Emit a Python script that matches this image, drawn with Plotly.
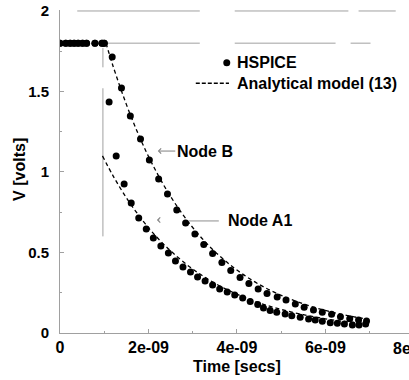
import plotly.graph_objects as go

NS = 1e-9
FONT = "Liberation Sans, Arial, Helvetica, sans-serif"

# ---------------- data (time in ns, voltage in V) ----------------
# HSPICE samples before the switching event (both nodes at 1.8 V)
pre_t = [0.0, 0.13, 0.23, 0.32, 0.41, 0.51, 0.60, 0.79, 0.95, 1.00]
pre_v = [1.8, 1.8, 1.8, 1.8, 1.8, 1.8, 1.8, 1.8, 1.8, 1.8]

# HSPICE Node B
hsp_b_t = [1.18, 1.39, 1.59, 1.82, 2.02, 2.23, 2.43, 2.64, 2.84, 3.05,
           3.25, 3.45, 3.66, 3.86, 4.07, 4.27, 4.48, 4.68, 4.91, 5.11,
           5.32, 5.52, 5.73, 5.93, 6.14, 6.34, 6.55, 6.75, 6.93]
hsp_b_v = [1.714, 1.522, 1.348, 1.205, 1.075, 0.957, 0.863, 0.764, 0.683, 0.615,
           0.550, 0.494, 0.438, 0.388, 0.345, 0.308, 0.273, 0.245, 0.224, 0.205,
           0.180, 0.160, 0.143, 0.129, 0.116, 0.101, 0.089, 0.081, 0.075]

# HSPICE Node A1
hsp_a_t = [1.11, 1.27, 1.45, 1.61, 1.78, 1.95, 2.11, 2.28, 2.45, 2.61,
           2.78, 2.95, 3.11, 3.28, 3.45, 3.61, 3.78, 3.95, 4.13, 4.30,
           4.47, 4.60, 4.75, 4.90, 5.09, 5.24, 5.43, 5.62, 5.77, 5.93,
           6.11, 6.27, 6.43, 6.61, 6.76, 6.91]
hsp_a_v = [1.435, 1.099, 0.925, 0.807, 0.714, 0.646, 0.590, 0.540, 0.497, 0.447,
           0.410, 0.379, 0.348, 0.323, 0.298, 0.273, 0.255, 0.236, 0.217, 0.196,
           0.177, 0.155, 0.139, 0.129, 0.118, 0.107, 0.098, 0.087, 0.081, 0.073,
           0.064, 0.060, 0.056, 0.050, 0.050, 0.056]

# Analytical model (13), Node B
mod_b_t = [1.04, 1.2, 1.5, 1.8, 2.1, 2.5, 3.0, 3.5, 4.0, 4.5, 5.0, 5.5, 6.0, 6.5, 6.95]
mod_b_v = [1.80, 1.657, 1.420, 1.216, 1.042, 0.848, 0.655, 0.506, 0.391, 0.302,
           0.234, 0.181, 0.140, 0.108, 0.086]

# Analytical model (13), Node A1
mod_a_t = [0.96, 1.2, 1.5, 1.8, 2.1, 2.5, 3.0, 3.5, 4.0, 4.5, 5.0, 5.5, 6.0, 6.5, 6.95]
mod_a_v = [1.10, 0.976, 0.840, 0.723, 0.622, 0.510, 0.397, 0.309, 0.241, 0.187,
           0.146, 0.114, 0.088, 0.069, 0.055]

# faint gray lines left over in the original figure
top_t = [0.39, 3.16, None, 3.95, 6.52, None, 6.75, 7.59]
top_v = [2.0, 2.0, None, 2.0, 2.0, None, 2.0, 2.0]
hi_t = [0.98, 3.16, None, 3.95, 6.23, None, 6.57, 7.02]
hi_v = [1.8, 1.8, None, 1.8, 1.8, None, 1.8, 1.8]
step_t = [0.97, 0.97, None, 0.97, 0.97]
step_v = [1.77, 1.65, None, 1.52, 0.60]

x_tickvals = [0, 2, 4, 6]
x_ticktext = ["0", "2e-09", "4e-09", "6e-09"]
y_tickvals = [0, 0.5, 1, 1.5, 2]
y_ticktext = ["0", "0.5", "1", "1.5", "2"]


def s(ts):
    return [None if v is None else v * NS for v in ts]


GRAY = "#a0a0a0"
fig = go.Figure()

for tt, vv, w in [(top_t, top_v, 1), (hi_t, hi_v, 1), (step_t, step_v, 1)]:
    fig.add_trace(go.Scatter(x=s(tt), y=vv, mode="lines",
                             line=dict(color=GRAY, width=w),
                             showlegend=False, hoverinfo="skip"))

# analytical model curves
for tt, vv in [(mod_b_t, mod_b_v), (mod_a_t, mod_a_v)]:
    fig.add_trace(go.Scatter(x=s(tt), y=vv, mode="lines",
                             line=dict(color="black", width=1.3, dash="4px,3px",
                                       shape="spline"),
                             name="Analytical model (13)", showlegend=False))

# HSPICE dots
for tt, vv in [(pre_t + hsp_b_t, pre_v + hsp_b_v), (pre_t + hsp_a_t, pre_v + hsp_a_v)]:
    fig.add_trace(go.Scatter(x=s(tt), y=vv, mode="markers",
                             marker=dict(color="black", size=7),
                             name="HSPICE", showlegend=False))

# ---- hand-drawn legend (as in the original figure) ----
leg_dot_t = [3.77]
leg_dot_v = [1.679]
leg_dash_t = [3.07, 3.82]
leg_dash_v = [1.551, 1.551]
fig.add_trace(go.Scatter(x=s(leg_dot_t), y=leg_dot_v, mode="markers",
                         marker=dict(color="black", size=7),
                         showlegend=False, hoverinfo="skip"))
fig.add_trace(go.Scatter(x=s(leg_dash_t), y=leg_dash_v, mode="lines",
                         line=dict(color="black", width=1.3, dash="4px,2px"),
                         showlegend=False, hoverinfo="skip"))

# leader line for Node A1 label
lead_t = [2.91, 3.59]
lead_v = [0.696, 0.696]
fig.add_trace(go.Scatter(x=s(lead_t), y=lead_v, mode="lines",
                         line=dict(color=GRAY, width=1.2),
                         showlegend=False, hoverinfo="skip"))

bold = dict(family=FONT, size=16, color="black", weight="bold")

annotations = [
    dict(x=3.96 * NS, y=1.679, xref="x", yref="y", text="HSPICE", showarrow=False,
         xanchor="left", yanchor="middle", font=bold),
    dict(x=3.96 * NS, y=1.551, xref="x", yref="y", text="Analytical model (13)",
         showarrow=False, xanchor="left", yanchor="middle", font=bold),
    dict(x=2.21 * NS, y=1.130, xref="x", yref="y", text="Node B", showarrow=True,
         ax=47, ay=0, arrowhead=4, arrowsize=1, arrowwidth=1, arrowcolor="#808080",
         font=bold),
    dict(x=4.53 * NS, y=0.696, xref="x", yref="y", text="Node A1", showarrow=False,
         xanchor="center", yanchor="middle", font=bold),
    dict(x=2.19 * NS, y=0.702, xref="x", yref="y", text="", showarrow=True,
         ax=4, ay=0, arrowhead=4, arrowsize=1, arrowwidth=1, arrowcolor="#808080"),
    dict(x=-0.1146, y=0.505, xref="paper", yref="paper", text="V [volts]",
         textangle=-90, showarrow=False, xanchor="center", yanchor="middle",
         font=bold),
    dict(x=0.507, y=-0.104, xref="paper", yref="paper", text="Time [secs]",
         showarrow=False, xanchor="center", yanchor="middle", font=bold),
    dict(x=1.0143, y=-0.047, xref="paper", yref="paper", text="8e-09",
         showarrow=False, xanchor="center", yanchor="middle", font=bold),
]

fig.update_layout(
    width=409, height=380,
    margin=dict(l=60, r=0, t=10, b=47),
    plot_bgcolor="white", paper_bgcolor="white",
    showlegend=False,
    annotations=annotations,
    xaxis=dict(range=[0, 7.89 * NS], showgrid=False, zeroline=False,
               showline=True, linecolor=GRAY, linewidth=1,
               ticks="inside", ticklen=4, tickcolor=GRAY,
               tickvals=[v * NS for v in x_tickvals], ticktext=x_ticktext,
               tickfont=bold, ticklabelstandoff=0,
               minor=dict(dtick=1 * NS, ticks="inside", ticklen=2, tickcolor=GRAY)),
    yaxis=dict(range=[0, 2.006], showgrid=False, zeroline=False,
               showline=True, linecolor=GRAY, linewidth=1,
               ticks="inside", ticklen=4, tickcolor=GRAY,
               tickvals=y_tickvals, ticktext=y_ticktext,
               tickfont=dict(family=FONT, size=15, color="black", weight="bold"),
               ticklabelstandoff=7,
               minor=dict(dtick=0.25, ticks="inside", ticklen=2, tickcolor=GRAY)),
)

fig.write_html("out.html")
